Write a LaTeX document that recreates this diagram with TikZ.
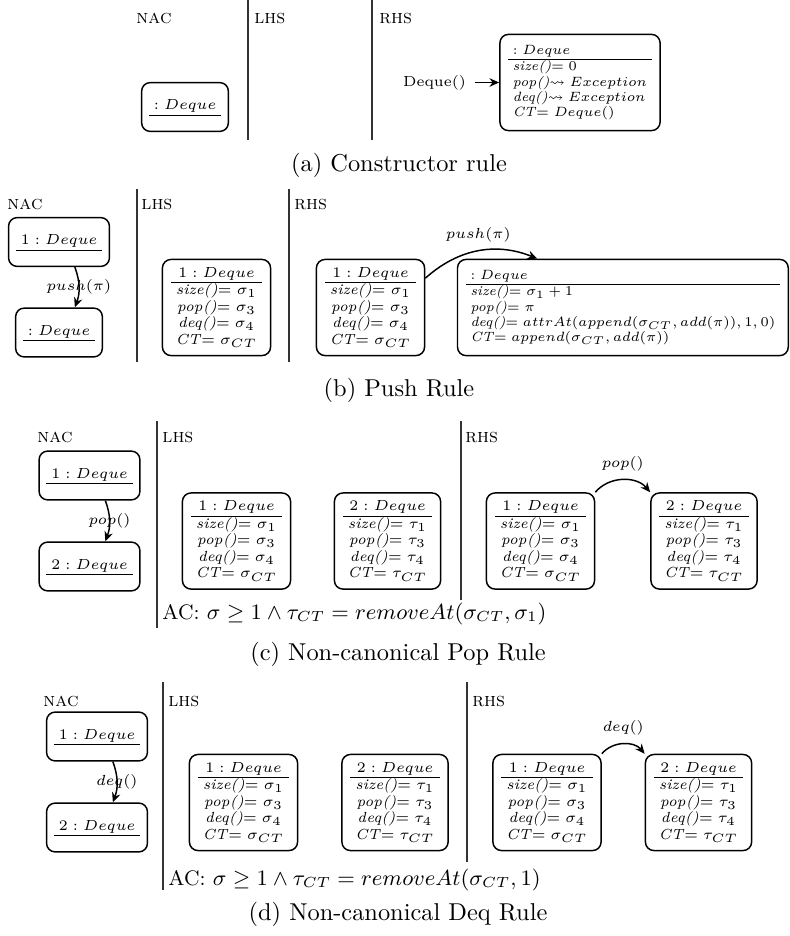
\documentclass[tikz,border=0pt]{standalone}
\usepackage{amsmath,amssymb}
\usepackage{graphicx}
\usepackage{tikz}
\usetikzlibrary{arrows.meta}
\renewcommand{\arraystretch}{0.8}
\setlength{\tabcolsep}{2pt}

\begin{document}
\begin{tikzpicture}[
    x=0.41pt, y=0.41pt,
    obj/.style={rectangle, rounded corners=3.5pt, draw, semithick, inner xsep=3.5pt, inner ysep=2.5pt, font=\fontsize{6}{8.5}\selectfont},
    wideobj/.style={obj, inner ysep=3.9pt},
    nacobj/.style={obj, inner xsep=3pt, minimum height=20pt},
    zone/.style={anchor=west, inner sep=0pt, font=\footnotesize\scshape},
    divider/.style={black!80, line width=0.5pt},
    lbl/.style={font=\fontsize{6}{8}\selectfont},
    arr/.style={-{Stealth[length=4pt,width=3.5pt]}, semithick},
    cond/.style={anchor=west, inner sep=0pt, font=\fontsize{8.6}{11}\selectfont},
    subcaption/.style={font=\normalsize}
]
\useasboundingbox (0,0) rectangle (790,-936);

% (a) Constructor rule
\node[zone] (na) at (136,-18) {nac};
\node[zone] (la) at (254,-18) {lhs};
\node[zone] (ra) at (379,-18) {rhs};
\draw[divider] (248,0) -- (248,-140);
\draw[divider] (372,0) -- (372,-140);
\node[nacobj] (na1) at (185,-107) {\begin{tabular}{c}$:Deque$\\ \hline\end{tabular}};
\node[wideobj] (ra1) at (580,-82.5) {\scalebox{0.92}{\begin{tabular}{l}$:Deque$\\ \hline
    \textit{size()}$=0$\\ \textit{pop()}$\leadsto Exception$\\
    \textit{deq()}$\leadsto Exception$\\ \textit{CT}$=Deque()$\end{tabular}}};
\node[lbl] (call) at (434.5,-82.5) {Deque()};
\draw[arr] (call) -- (ra1);
\node[subcaption] (capa) at (399,-165) {(a) Constructor rule};

% (b) Push rule
\node[zone] (nb) at (7,-204) {nac};
\node[zone] (lb) at (141,-204) {lhs};
\node[zone] (rb) at (294,-204) {rhs};
\draw[divider] (137,-189) -- (137,-362);
\draw[divider] (289,-189) -- (289,-362);
\node[nacobj] (nb1) at (59,-242) {\begin{tabular}{c}$1:Deque$\\ \hline\end{tabular}};
\node[nacobj] (nb2) at (59,-332.5) {\begin{tabular}{c}$:Deque$\\ \hline\end{tabular}};
\draw[arr] ([xshift=6.5pt]nb1.south) to[bend left=20] node[lbl] {$push(\pi)$} ([xshift=6.5pt]nb2.north);
\node[obj] (lb1) at (216.5,-307.5) {\begin{tabular}{c}$1:Deque$\\ \hline
    \textit{size()}$=\sigma_1$\\ \textit{pop()}$=\sigma_3$\\
    \textit{deq()}$=\sigma_4$\\ \textit{CT}$=\sigma_{CT}$\end{tabular}};
\node[obj] (rb1) at (370.5,-307.5) {\begin{tabular}{c}$1:Deque$\\ \hline
    \textit{size()}$=\sigma_1$\\ \textit{pop()}$=\sigma_3$\\
    \textit{deq()}$=\sigma_4$\\ \textit{CT}$=\sigma_{CT}$\end{tabular}};
\node[wideobj, anchor=east] (rb2) at (789,-307.5) {\scalebox{0.92}{\begin{tabular}{l}$:Deque$\\ \hline
    \textit{size()}$=\sigma_1+1$\\ \textit{pop()}$=\pi$\\
    \textit{deq()}$=attrAt(append(\sigma_{CT},add(\pi)),1,0)$\\
    \textit{CT}$=append(\sigma_{CT},add(\pi))$\end{tabular}}};
\draw[arr] ([yshift=-8pt]rb1.north east) to[bend left=32] node[lbl, above] {$push(\pi)$} ([xshift=33pt]rb2.north west);
\node[subcaption] (capb) at (399,-390) {(b) Push Rule};

% (c) Non-canonical pop rule
\node[zone] (nc) at (37,-437) {nac};
\node[zone] (lc) at (162,-437) {lhs};
\node[zone] (rc) at (465,-437) {rhs};
\draw[divider] (157,-421) -- (157,-628);
\draw[divider] (461,-421) -- (461,-600);
\node[nacobj] (nc1) at (89.5,-475.5) {\begin{tabular}{c}$1:Deque$\\ \hline\end{tabular}};
\node[nacobj] (nc2) at (89.5,-566.5) {\begin{tabular}{c}$2:Deque$\\ \hline\end{tabular}};
\draw[arr] ([xshift=6.5pt]nc1.south) to[bend left=20] node[lbl] {$pop()$} ([xshift=6.5pt]nc2.north);
\node[obj] (lc1) at (236.5,-541) {\begin{tabular}{c}$1:Deque$\\ \hline
    \textit{size()}$=\sigma_1$\\ \textit{pop()}$=\sigma_3$\\
    \textit{deq()}$=\sigma_4$\\ \textit{CT}$=\sigma_{CT}$\end{tabular}};
\node[obj] (lc2) at (387.5,-541) {\begin{tabular}{c}$2:Deque$\\ \hline
    \textit{size()}$=\tau_1$\\ \textit{pop()}$=\tau_3$\\
    \textit{deq()}$=\tau_4$\\ \textit{CT}$=\tau_{CT}$\end{tabular}};
\node[obj] (rc1) at (540.5,-541) {\begin{tabular}{c}$1:Deque$\\ \hline
    \textit{size()}$=\sigma_1$\\ \textit{pop()}$=\sigma_3$\\
    \textit{deq()}$=\sigma_4$\\ \textit{CT}$=\sigma_{CT}$\end{tabular}};
\node[obj] (rc2) at (704,-541) {\begin{tabular}{c}$2:Deque$\\ \hline
    \textit{size()}$=\tau_1$\\ \textit{pop()}$=\tau_3$\\
    \textit{deq()}$=\tau_4$\\ \textit{CT}$=\tau_{CT}$\end{tabular}};
\draw[arr] (rc1.north east) to[bend left=50] node[lbl, above] {$pop()$} (rc2.north west);
\node[cond] (acc) at (162,-614) {AC: $\sigma\geq 1\wedge\tau_{CT}=removeAt(\sigma_{CT},\sigma_1)$};
\node[subcaption] (capc) at (398,-654) {(c) Non-canonical Pop Rule};

% (d) Non-canonical deq rule
\node[zone] (nd) at (43,-701) {nac};
\node[zone] (ld) at (168,-701) {lhs};
\node[zone] (rd) at (472,-701) {rhs};
\draw[divider] (163,-682) -- (163,-890);
\draw[divider] (467,-682) -- (467,-862);
\node[nacobj] (nd1) at (97,-736.5) {\begin{tabular}{c}$1:Deque$\\ \hline\end{tabular}};
\node[nacobj] (nd2) at (97,-827.5) {\begin{tabular}{c}$2:Deque$\\ \hline\end{tabular}};
\draw[arr] ([xshift=6.5pt]nd1.south) to[bend left=20] node[lbl] {$deq()$} ([xshift=6.5pt]nd2.north);
\node[obj] (ld1) at (243.5,-802.5) {\begin{tabular}{c}$1:Deque$\\ \hline
    \textit{size()}$=\sigma_1$\\ \textit{pop()}$=\sigma_3$\\
    \textit{deq()}$=\sigma_4$\\ \textit{CT}$=\sigma_{CT}$\end{tabular}};
\node[obj] (ld2) at (395,-802.5) {\begin{tabular}{c}$2:Deque$\\ \hline
    \textit{size()}$=\tau_1$\\ \textit{pop()}$=\tau_3$\\
    \textit{deq()}$=\tau_4$\\ \textit{CT}$=\tau_{CT}$\end{tabular}};
\node[obj] (rd1) at (547,-802.5) {\begin{tabular}{c}$1:Deque$\\ \hline
    \textit{size()}$=\sigma_1$\\ \textit{pop()}$=\sigma_3$\\
    \textit{deq()}$=\sigma_4$\\ \textit{CT}$=\sigma_{CT}$\end{tabular}};
\node[obj] (rd2) at (698.5,-802.5) {\begin{tabular}{c}$2:Deque$\\ \hline
    \textit{size()}$=\tau_1$\\ \textit{pop()}$=\tau_3$\\
    \textit{deq()}$=\tau_4$\\ \textit{CT}$=\tau_{CT}$\end{tabular}};
\draw[arr] (rd1.north east) to[bend left=50] node[lbl, above] {$deq()$} (rd2.north west);
\node[cond] (acd) at (168,-880) {AC: $\sigma\geq 1\wedge\tau_{CT}=removeAt(\sigma_{CT},1)$};
\node[subcaption] (capd) at (398,-914) {(d) Non-canonical Deq Rule};
\end{tikzpicture}
\end{document}
